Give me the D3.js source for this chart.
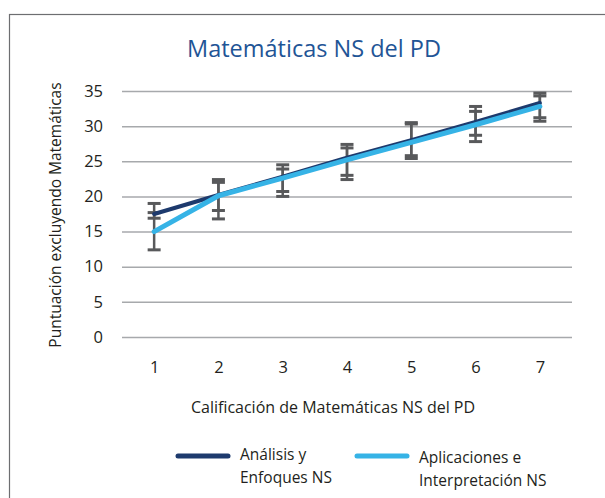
<!DOCTYPE html>
<html>
<head>
<meta charset="utf-8">
<script src="https://cdn.jsdelivr.net/npm/d3@7"></script>
<style>
  body { margin: 0; background: #fff; }
  svg { font-family: 'Open Sans', 'Noto Sans', sans-serif; }
  .axis-label { fill: #231f20; font-size: 15.5px; }
</style>
</head>
<body>
<svg width="605" height="498"></svg>
<script>
const grades = [1, 2, 3, 4, 5, 6, 7];
const yTickValues = [0, 5, 10, 15, 20, 25, 30, 35];

// Análisis y Enfoques NS
const aaValues = [17.5, 20.2, 22.8, 25.5, 28.0, 30.6, 33.3];
const aaLow = [16.9, 18.0, 20.7, 23.0, 25.8, 28.7, 31.2];
const aaHigh = [19.0, 22.4, 24.5, 27.4, 30.5, 32.8, 34.7];

// Aplicaciones e Interpretación NS
const aiValues = [15.0, 20.1, 22.6, 25.2, 27.7, 30.2, 32.8];
const aiLow = [12.4, 16.8, 20.0, 22.4, 25.4, 27.8, 30.7];
const aiHigh = [17.7, 22.0, 23.9, 26.9, 30.3, 32.1, 34.3];

const title = 'Matemáticas NS del PD';
const xLabel = 'Calificación de Matemáticas NS del PD';
const yLabel = 'Puntuación excluyendo Matemáticas';

const series = [
  { name: ['Análisis y', 'Enfoques NS'], values: aaValues, low: aaLow, high: aaHigh, color: '#1d3a6d', width: 4 },
  { name: ['Aplicaciones e', 'Interpretación NS'], values: aiValues, low: aiLow, high: aiHigh, color: '#36b3e6', width: 5 }
];

const margin = { left: 122, right: 33, top: 91, bottom: 161 };

const svg = d3.select('svg');
const width = +svg.attr('width');
const height = +svg.attr('height');
const innerWidth = width - margin.left - margin.right;
const innerHeight = height - margin.top - margin.bottom;

// outer frame
svg.append('rect')
    .attr('x', 9.5)
    .attr('y', 14.5)
    .attr('width', 640)
    .attr('height', 540)
    .attr('fill', 'none')
    .attr('stroke', '#6d6e71')
    .attr('stroke-width', 1.2);

svg.append('text')
    .attr('x', 314)
    .attr('y', 57)
    .attr('text-anchor', 'middle')
    .attr('fill', '#1f5596')
    .style('font-size', '23.5px')
    .text(title);

const g = svg.append('g')
    .attr('transform', `translate(${margin.left},${margin.top})`);

const xScale = d3.scalePoint()
    .domain(grades)
    .range([0, innerWidth])
    .padding(0.5);

const yScale = d3.scaleLinear()
    .domain([0, 35])
    .range([innerHeight, 0]);

const yAxis = d3.axisLeft(yScale)
    .tickValues(yTickValues)
    .tickSize(-innerWidth)
    .tickPadding(19);

const xAxis = d3.axisBottom(xScale)
    .tickSize(0)
    .tickPadding(24);

const yAxisG = g.append('g').call(yAxis);
yAxisG.select('.domain').remove();
yAxisG.selectAll('.tick line')
    .attr('stroke', '#a7a9ac')
    .attr('stroke-width', 1.5);

const xAxisG = g.append('g')
    .attr('transform', `translate(0, ${innerHeight})`)
    .call(xAxis);
xAxisG.select('.domain').remove();

[yAxisG, xAxisG].forEach(a => a
    .attr('font-family', null)
    .attr('font-size', null)
    .selectAll('.tick text')
    .attr('fill', '#231f20')
    .style('font-size', '16.5px'));

g.append('text')
    .attr('class', 'axis-label')
    .attr('x', 211)
    .attr('y', innerHeight + 76)
    .attr('text-anchor', 'middle')
    .style('font-size', '16px')
    .text(xLabel);

g.append('text')
    .attr('class', 'axis-label')
    .attr('transform', 'rotate(-90)')
    .attr('x', -innerHeight / 2 - 1)
    .attr('y', -61)
    .attr('text-anchor', 'middle')
    .style('font-size', '15.5px')
    .text(yLabel);

// error bars
const capW = 13;
series.forEach(s => {
  const bars = g.append('g')
      .attr('stroke', '#58595b');
  grades.forEach((grade, i) => {
    const x = xScale(grade);
    bars.append('line')
        .attr('x1', x).attr('x2', x)
        .attr('y1', yScale(s.low[i])).attr('y2', yScale(s.high[i]))
        .attr('stroke-width', 2.5);
    [s.low[i], s.high[i]].forEach(v => {
      bars.append('line')
          .attr('x1', x - capW / 2).attr('x2', x + capW / 2)
          .attr('y1', yScale(v)).attr('y2', yScale(v))
          .attr('stroke-width', 3);
    });
  });
});

const line = d3.line()
    .x((d, i) => xScale(grades[i]))
    .y(d => yScale(d));

series.forEach(s => {
  g.append('path')
      .attr('fill', 'none')
      .attr('stroke', s.color)
      .attr('stroke-width', s.width)
      .attr('stroke-linecap', 'round')
      .attr('stroke-linejoin', 'round')
      .attr('d', line(s.values));
});

// legend
const legendX = [178, 357];
series.forEach((s, i) => {
  const lg = svg.append('g')
      .attr('transform', `translate(${legendX[i]}, 456)`);
  lg.append('line')
      .attr('x1', 0).attr('x2', 50)
      .attr('stroke', s.color)
      .attr('stroke-width', 5)
      .attr('stroke-linecap', 'round');
  lg.append('text')
      .attr('class', 'axis-label')
      .attr('x', 62)
      .attr('y', 4 + i * 3)
      .selectAll('tspan')
      .data(s.name)
      .join('tspan')
      .attr('x', 62)
      .attr('dy', (d, j) => j === 0 ? 0 : 23)
      .text(d => d);
});
</script>
</body>
</html>
